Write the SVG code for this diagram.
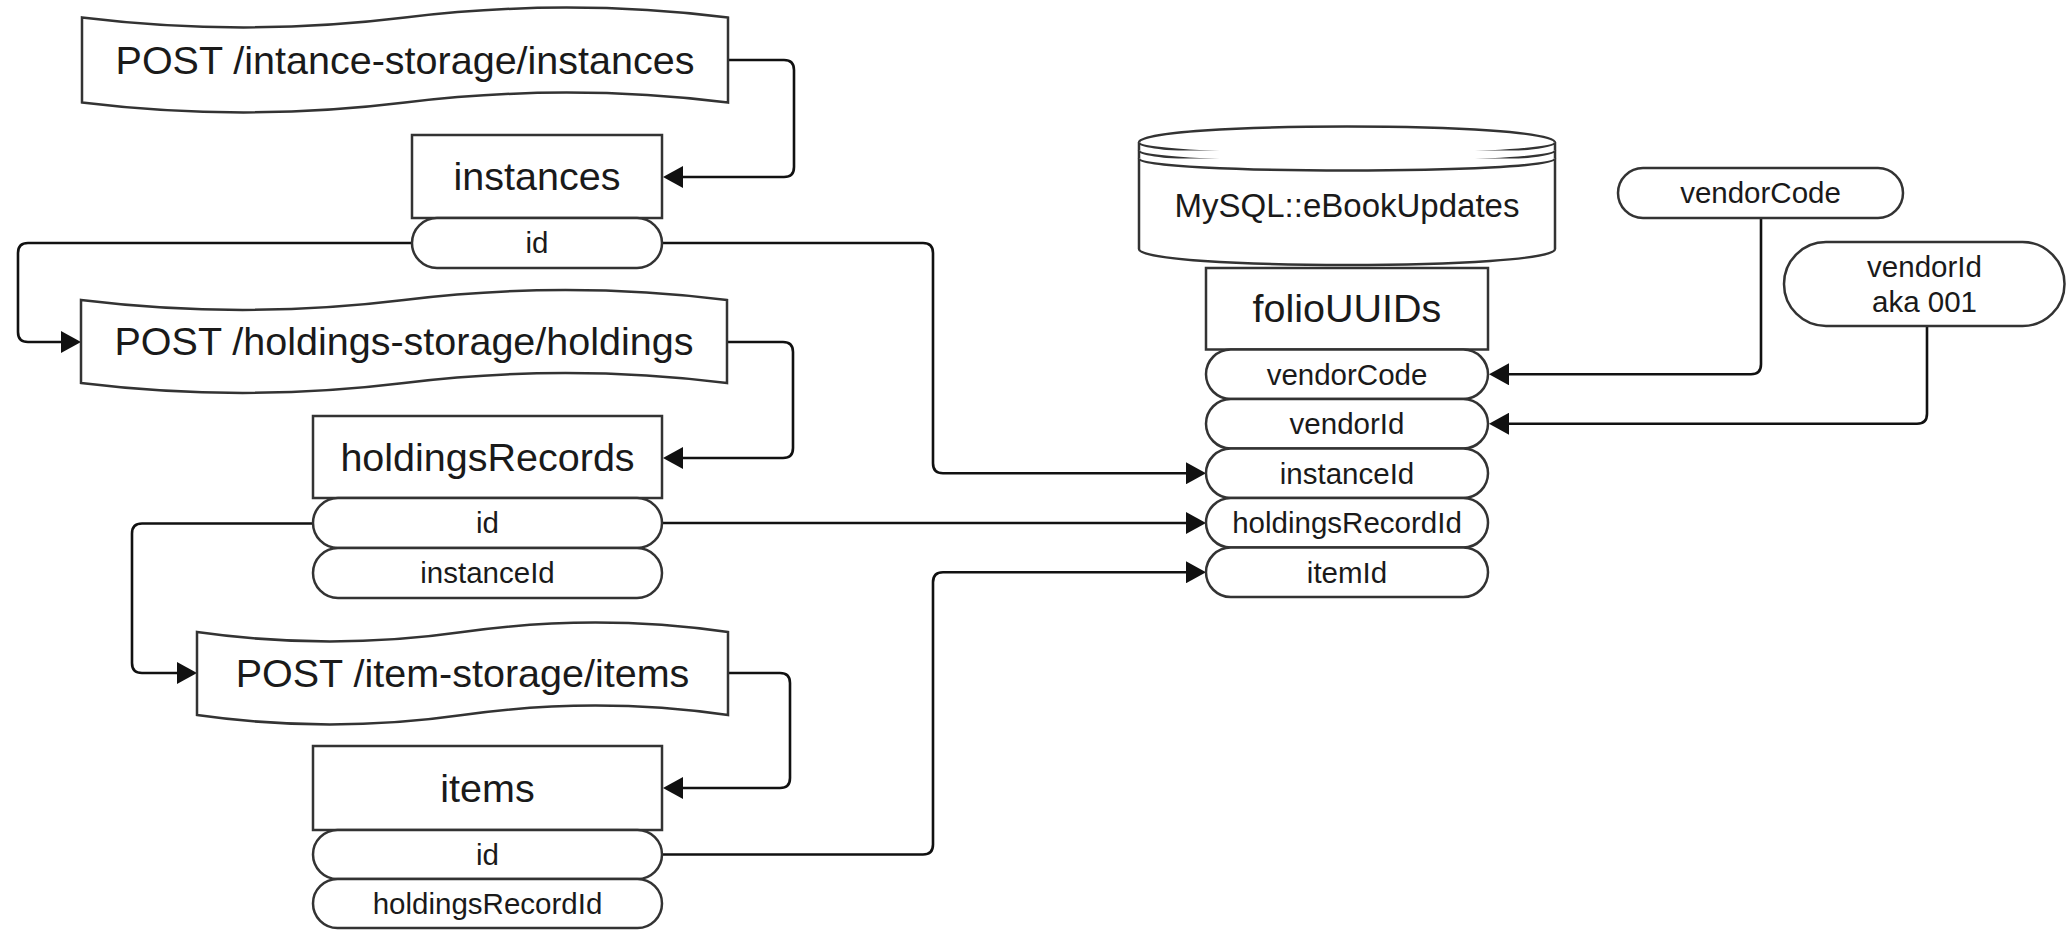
<svg xmlns="http://www.w3.org/2000/svg" width="2066" height="930" viewBox="0 0 2066 930">
  <defs>
    <style>
      .shape { fill: #ffffff; stroke: #333333; stroke-width: 2.5; }
      .line { fill: none; stroke: #111111; stroke-width: 2.6; }
      .big { font-family: "Liberation Sans", Arial, sans-serif; font-size: 39.5px; fill: #1a1a1a; text-anchor: middle; }
      .mid { font-family: "Liberation Sans", Arial, sans-serif; font-size: 33px; fill: #1a1a1a; text-anchor: middle; }
      .small { font-family: "Liberation Sans", Arial, sans-serif; font-size: 29.5px; fill: #1a1a1a; text-anchor: middle; }
    </style>
    <marker id="arrow" viewBox="0 0 20 22" refX="0" refY="11" markerWidth="20" markerHeight="22" markerUnits="userSpaceOnUse" orient="auto">
      <path d="M0,0 L20,11 L0,22 Z" fill="#111111"/>
    </marker>
  </defs>

  <rect width="2066" height="930" fill="#ffffff"/>

  <!-- connectors -->
  <g id="connectors">
    <path class="line" marker-end="url(#arrow)" d="M728,60 H784 Q794,60 794,70 V167 Q794,177 784,177 H683"/>
    <path class="line" marker-end="url(#arrow)" d="M412,243 H28 Q18,243 18,253 V332 Q18,342 28,342 H61"/>
    <path class="line" marker-end="url(#arrow)" d="M727,342 H783 Q793,342 793,352 V448 Q793,458 783,458 H683"/>
    <path class="line" marker-end="url(#arrow)" d="M313,523.5 H142 Q132,523.5 132,533.5 V663 Q132,673 142,673 H177"/>
    <path class="line" marker-end="url(#arrow)" d="M728,673 H780 Q790,673 790,683 V778 Q790,788 780,788 H683"/>
    <path class="line" marker-end="url(#arrow)" d="M662,243 H923 Q933,243 933,253 V463.25 Q933,473.25 943,473.25 H1186"/>
    <path class="line" marker-end="url(#arrow)" d="M662,523 H1186"/>
    <path class="line" marker-end="url(#arrow)" d="M662,854.5 H923 Q933,854.5 933,844.5 V582.25 Q933,572.25 943,572.25 H1186"/>
    <path class="line" marker-end="url(#arrow)" d="M1761,218 V364.25 Q1761,374.25 1751,374.25 H1509"/>
    <path class="line" marker-end="url(#arrow)" d="M1927,326 V413.75 Q1927,423.75 1917,423.75 H1509"/>
  </g>

  <!-- POST /intance-storage/instances -->
  <g id="post-instances">
    <path class="shape" d="M82,17.5 Q243.5,37.3 405,17.5 Q566.5,-2.3 728,17.5 L728,102.5 Q566.5,82.7 405,102.5 Q243.5,122.3 82,102.5 Z"/>
    <text class="big" x="405" y="73.8">POST /intance-storage/instances</text>
  </g>

  <!-- instances table -->
  <g id="instances">
    <rect class="shape" x="412" y="135" width="250" height="83"/>
    <text class="big" x="537" y="190.3">instances</text>
  </g>
  <g id="instances-id">
    <rect class="shape" x="412" y="218" width="250" height="50" rx="25"/>
    <text class="small" x="537" y="253.3">id</text>
  </g>

  <!-- POST /holdings-storage/holdings -->
  <g id="post-holdings">
    <path class="shape" d="M81,300 Q242.5,319.8 404,300 Q565.5,280.2 727,300 L727,383 Q565.5,363.2 404,383 Q242.5,402.8 81,383 Z"/>
    <text class="big" x="404" y="355.3">POST /holdings-storage/holdings</text>
  </g>

  <!-- holdingsRecords table -->
  <g id="holdingsRecords">
    <rect class="shape" x="313" y="416" width="349" height="82"/>
    <text class="big" x="487.5" y="470.8">holdingsRecords</text>
  </g>
  <g id="holdingsRecords-id">
    <rect class="shape" x="313" y="498" width="349" height="50" rx="25"/>
    <text class="small" x="487.5" y="533.3">id</text>
  </g>
  <g id="holdingsRecords-instanceId">
    <rect class="shape" x="313" y="548" width="349" height="50" rx="25"/>
    <text class="small" x="487.5" y="583.3">instanceId</text>
  </g>

  <!-- POST /item-storage/items -->
  <g id="post-items">
    <path class="shape" d="M197,632 Q329.75,650.9 462.5,632 Q595.25,613.1 728,632 L728,715 Q595.25,696.1 462.5,715 Q329.75,733.9 197,715 Z"/>
    <text class="big" x="462.5" y="686.8">POST /item-storage/items</text>
  </g>

  <!-- items table -->
  <g id="items">
    <rect class="shape" x="313" y="746" width="349" height="84"/>
    <text class="big" x="487.5" y="801.8">items</text>
  </g>
  <g id="items-id">
    <rect class="shape" x="313" y="830" width="349" height="49" rx="24.5"/>
    <text class="small" x="487.5" y="864.8">id</text>
  </g>
  <g id="items-holdingsRecordId">
    <rect class="shape" x="313" y="879" width="349" height="49" rx="24.5"/>
    <text class="small" x="487.5" y="913.8">holdingsRecordId</text>
  </g>

  <!-- MySQL data store -->
  <g id="mysql-ebookupdates">
    <path class="shape" d="M1139,142.5 C1139,121.2 1555,121.2 1555,142.5 L1555,249 C1555,270.3 1139,270.3 1139,249 Z"/>
    <path class="shape" fill="none" d="M1139,142.5 C1139,158.5 1555,158.5 1555,142.5"/>
    <path class="shape" fill="none" d="M1139,150.5 C1139,166.5 1555,166.5 1555,150.5"/>
    <path class="shape" fill="none" d="M1139,158.5 C1139,174.5 1555,174.5 1555,158.5"/>
    <text class="mid" x="1347" y="216.5">MySQL::eBookUpdates</text>
  </g>

  <!-- folioUUIDs table -->
  <g id="folioUUIDs">
    <rect class="shape" x="1206" y="268" width="282" height="81.5"/>
    <text class="big" x="1347" y="322.3">folioUUIDs</text>
  </g>
  <g id="folioUUIDs-vendorCode">
    <rect class="shape" x="1206" y="349.5" width="282" height="49.5" rx="24.75"/>
    <text class="small" x="1347" y="384.6">vendorCode</text>
  </g>
  <g id="folioUUIDs-vendorId">
    <rect class="shape" x="1206" y="399" width="282" height="49.5" rx="24.75"/>
    <text class="small" x="1347" y="434.1">vendorId</text>
  </g>
  <g id="folioUUIDs-instanceId">
    <rect class="shape" x="1206" y="448.5" width="282" height="49.5" rx="24.75"/>
    <text class="small" x="1347" y="483.6">instanceId</text>
  </g>
  <g id="folioUUIDs-holdingsRecordId">
    <rect class="shape" x="1206" y="498" width="282" height="49.5" rx="24.75"/>
    <text class="small" x="1347" y="533.1">holdingsRecordId</text>
  </g>
  <g id="folioUUIDs-itemId">
    <rect class="shape" x="1206" y="547.5" width="282" height="49.5" rx="24.75"/>
    <text class="small" x="1347" y="582.6">itemId</text>
  </g>

  <!-- vendor inputs -->
  <g id="vendorCode">
    <rect class="shape" x="1618" y="168" width="285" height="50" rx="25"/>
    <text class="small" x="1760.5" y="203.3">vendorCode</text>
  </g>
  <g id="vendorId">
    <rect class="shape" x="1784" y="242" width="280.5" height="84" rx="42"/>
    <text class="small" x="1924.5" y="276.8">vendorId</text>
    <text class="small" x="1924.5" y="312.2">aka 001</text>
  </g>
</svg>
